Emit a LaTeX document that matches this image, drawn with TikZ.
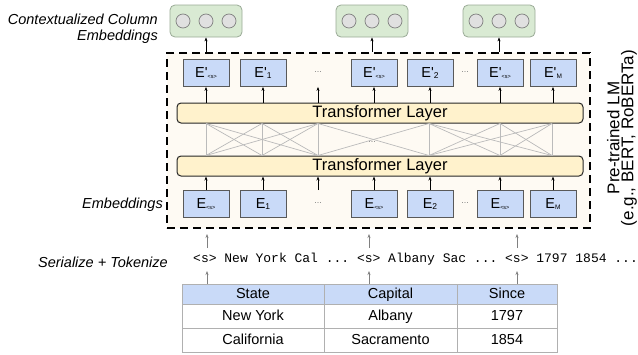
\documentclass[tikz,border=0pt]{standalone}
\usepackage{fontspec}
\setmainfont{Liberation Sans}
\setmonofont{Liberation Mono}
\usetikzlibrary{arrows.meta}
\definecolor{grn}{HTML}{D9EAD3}
\definecolor{grnedge}{HTML}{9AAA96}
\definecolor{eblue}{HTML}{C9DAF8}
\definecolor{yel}{HTML}{FFF2CC}
\definecolor{cream}{HTML}{FEFAF3}
\definecolor{crossgray}{HTML}{BBBBBB}
\definecolor{tblgray}{HTML}{B0B0B0}
\newcommand\sbs[1]{\raisebox{-1.5pt}{\fontsize{8.5}{8.5}\selectfont #1}}
\newcommand\sbt{\raisebox{-1pt}{\fontsize{5.5}{5.5}\selectfont <s>}}
\begin{document}
\begin{tikzpicture}[x=1pt,y=-1pt,
  ebox/.style={draw=black!65, fill=eblue, minimum width=46pt, minimum height=27pt, inner sep=0pt, line width=0.8pt, font=\fontsize{14.5}{14.5}\selectfont},
  gbox/.style={draw=grnedge, fill=grn, rounded corners=5pt, minimum width=72pt, minimum height=32pt, line width=0.8pt, inner sep=0pt},
  circ/.style={circle, draw=gray, fill=black!12, minimum size=14pt, inner sep=0pt, line width=0.7pt},
  tlayer/.style={draw=black!85, fill=yel, rounded corners=4pt, minimum width=406pt, minimum height=20pt, line width=1pt, inner sep=0pt, font=\fontsize{16.5}{16.5}\selectfont},
  arr/.style={-{Stealth[length=4pt,width=3pt]}, line width=0.6pt},
  garr/.style={arr, draw=gray, color=gray},
  cross/.style={draw=crossgray, line width=0.7pt},
  dots/.style={text=gray, font=\fontsize{9}{9}\selectfont, inner sep=0pt},
  lab/.style={font=\itshape\fontsize{14.5}{16}\selectfont, inner sep=0pt},
  cell/.style={font=\fontsize{14.5}{14.5}\selectfont, inner sep=0pt, text height=10.5pt, text depth=3pt},
  tbl/.style={draw=tblgray, line width=0.8pt}
]
\useasboundingbox (0,0) rectangle (638,354);
\fill[white] (0,0) rectangle (638,354);

% pre-trained LM dashed box
\node[draw=black, fill=cream, dashed, dash pattern=on 8pt off 5pt, line width=2.7pt, minimum width=423pt, minimum height=175pt, inner sep=0pt] (lm) at (378.5,140.5) {};

% transformer layers
\node[tlayer] (tlU) at (380,113) {Transformer Layer};
\node[tlayer] (tlL) at (380,166) {Transformer Layer};

% cross connections
\foreach \n/\x in {A/206,B/262,C/318,D/429,E/500,F/552}{
  \coordinate (t\n) at (\x,123.5);
  \coordinate (b\n) at (\x,155.5);
}
\foreach \n in {A,B,C,D,E,F}{ \draw[cross] (t\n) -- (b\n); }
\foreach \i/\j in {A/B,A/C,B/C,C/D,D/E,D/F,E/F}{
  \draw[cross] (t\i) -- (b\j);
  \draw[cross] (t\j) -- (b\i);
}
\node[dots] (dm) at (372,142) {...};

% contextual embeddings (top row)
\node[ebox] (p1) at (206,73) {E\textquotesingle\sbt};
\node[ebox] (p2) at (263,73) {E\textquotesingle\sbs{1}};
\node[ebox] (p3) at (374,73) {E\textquotesingle\sbt};
\node[ebox] (p4) at (430,73) {E\textquotesingle\sbs{2}};
\node[ebox] (p5) at (500,73) {E\textquotesingle\sbt};
\node[ebox] (p6) at (553,73) {E\textquotesingle\sbs{\fontsize{6.5}{6.5}\selectfont M}};
\node[dots] (pd1) at (318,72) {...};
\node[dots] (pd2) at (465,72) {...};

% input embeddings (bottom row)
\node[ebox] (e1) at (206,204) {E\sbt};
\node[ebox] (e2) at (263,204) {E\sbs{1}};
\node[ebox] (e3) at (374,204) {E\sbt};
\node[ebox] (e4) at (430,204) {E\sbs{2}};
\node[ebox] (e5) at (500,204) {E\sbt};
\node[ebox] (e6) at (553,204) {E\sbs{\fontsize{6.5}{6.5}\selectfont M}};
\node[dots] (ed1) at (318,203) {...};
\node[dots] (ed2) at (465,203) {...};

\coordinate (mid) at (318,0);

% arrows layer -> E'
\foreach \p in {p1,p2,p3,p4,p5,p6}{ \draw[arr] (tlU.north -| \p) -- (\p.south); }
\draw[arr] (tlU.north -| mid) -- (pd1.south |- p1.south);
% arrows E -> layer
\foreach \e in {e1,e2,e3,e4,e5,e6}{ \draw[arr] (\e.north) -- (tlL.south -| \e); }
\draw[arr] (ed1.north |- e1.north) -- (tlL.south -| mid);

% output boxes
\foreach \g/\x in {g1/206,g2/372,g3/499}{
  \node[gbox] (\g) at (\x,21) {};
  \node[circ] (\g a) at (\x-23,21) {};
  \node[circ] (\g b) at (\x,21) {};
  \node[circ] (\g c) at (\x+23,21) {};
  \draw[arr] (lm.north -| \g) -- (\g.south);
}

% token sequence
\node[anchor=west, font=\ttfamily\fontsize{13}{13}\selectfont, inner sep=0pt] (tok) at (193,259) {<s> New York Cal ... <s> Albany Sac ... <s> 1797 1854 ...};
\foreach \k/\x in {1/207,2/369,3/517}{
  \coordinate (ua\k) at (\x,248);
  \coordinate (ub\k) at (\x,234);
  \coordinate (la\k) at (\x,284);
  \coordinate (lb\k) at (\x,271);
  \draw[garr] (ua\k) -- (ub\k);
  \draw[garr] (la\k) -- (lb\k);
}

% table
\fill[eblue] (182,284) rectangle (557,304);
\draw[tbl] (182,284) rectangle (557,352);
\draw[tbl] (182,304) -- (557,304);
\draw[tbl] (182,328) -- (557,328);
\draw[tbl] (324,284) -- (324,352);
\draw[tbl] (457,284) -- (457,352);
\node[cell] (h1) at (253,294.5) {State};
\node[cell] (h2) at (390.5,294.5) {Capital};
\node[cell] (h3) at (507,294.5) {Since};
\node[cell] (r11) at (253,316.5) {New York};
\node[cell] (r12) at (390.5,316.5) {Albany};
\node[cell] (r13) at (507,316.5) {1797};
\node[cell] (r21) at (253,340.5) {California};
\node[cell] (r22) at (390.5,340.5) {Sacramento};
\node[cell] (r23) at (507,340.5) {1854};

% labels
\node[lab, anchor=east, align=right] (lctx) at (158,29) {Contextualized Column\\Embeddings};
\node[lab, anchor=east] (lemb) at (163,205) {Embeddings};
\node[lab, anchor=east] (lser) at (168,262) {Serialize + Tokenize};
\node[rotate=90, align=center, inner sep=0pt, font=\fontsize{17}{14}\selectfont] (lmlab) at (622,138) {Pre-trained LM\\(e.g., BERT, RoBERTa)};
\end{tikzpicture}
\end{document}
